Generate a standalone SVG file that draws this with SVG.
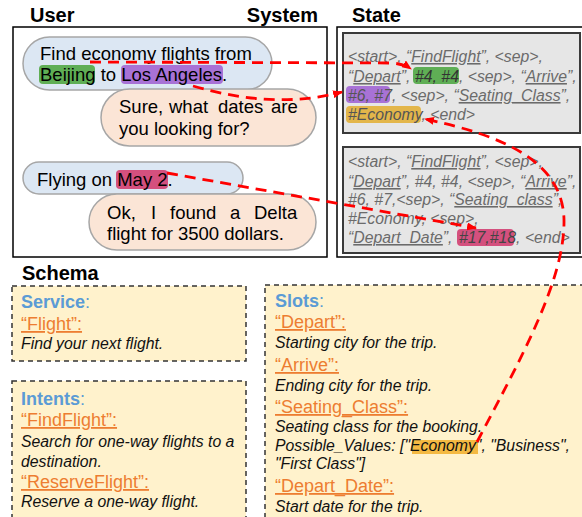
<svg xmlns="http://www.w3.org/2000/svg" width="582" height="517" viewBox="0 0 582 517">
<defs>
<style>
.ttl{font-family:"Liberation Sans",Arial,sans-serif;font-weight:bold;font-size:20px;fill:#000}
.dlg{font-family:"Liberation Sans",Arial,sans-serif;font-size:18.5px;fill:#000}
.ubub{fill:#dce7f3;stroke:#a6a6a6;stroke-width:1.5}
.sbub{fill:#fbe5d6;stroke:#a6a6a6;stroke-width:1.5}
.frame{fill:none;stroke:#000;stroke-width:1.5}
.stbox{fill:#e6e6e6;stroke:#3a3a3a;stroke-width:2}
.st{font-family:"Liberation Sans",Arial,sans-serif;font-style:italic;font-size:15.8px;fill:#6b6b6b}
.ul{text-decoration:underline}
.sch{fill:#fff2cc;stroke:#333;stroke-width:1.5;stroke-dasharray:5,4}
.hd{font-family:"Liberation Sans",Arial,sans-serif;font-weight:bold;font-size:18px;fill:#5b9bd5}
.key{font-family:"Liberation Sans",Arial,sans-serif;font-size:18px;fill:#ed7d31;text-decoration:underline}
.desc{font-family:"Liberation Sans",Arial,sans-serif;font-style:italic;font-size:15.8px;fill:#111}
.conn{fill:none;stroke:#ff0000;stroke-width:2.8;stroke-dasharray:11,7}
</style>
<marker id="arr" viewBox="0 0 10 8" refX="9" refY="4" markerWidth="10" markerHeight="8" markerUnits="userSpaceOnUse" orient="auto">
<path d="M0,0 L10,4 L0,8 z" fill="#ff0000"/>
</marker>
</defs>
<rect width="582" height="517" fill="#fff"/>

<g id="titles">
<text class="ttl" x="30" y="22">User</text>
<text class="ttl" x="318" y="22" text-anchor="end">System</text>
<text class="ttl" x="352" y="22">State</text>
<text class="ttl" x="22" y="280">Schema</text>
</g>

<g id="dialogue">
<rect class="frame" x="13" y="27" width="314" height="230"/>
<g id="u1">
<rect class="ubub" x="23" y="37" width="249" height="53" rx="26.5"/>
<rect x="39" y="65" width="56" height="19" rx="4" fill="#5fae55"/>
<rect x="121" y="65" width="102" height="19" rx="4" fill="#a872d6"/>
<text class="dlg" x="40" y="60">Find economy flights from</text>
<text class="dlg" x="40" y="81">Beijing to Los Angeles.</text>
</g>
<g id="s1">
<rect class="sbub" x="101" y="89" width="215" height="57" rx="28.5"/>
<text class="dlg" y="113"><tspan x="119">Sure,</tspan><tspan x="169">what</tspan><tspan x="218">dates</tspan><tspan x="271">are</tspan></text>
<text class="dlg" x="119" y="135">you looking for?</text>
</g>
<g id="u2">
<rect class="ubub" x="23" y="162" width="220" height="32" rx="16"/>
<rect x="116" y="170" width="52" height="19" rx="4" fill="#d4507e"/>
<text class="dlg" x="37" y="186">Flying on May 2.</text>
</g>
<g id="s2">
<rect class="sbub" x="89" y="194" width="227" height="56" rx="28"/>
<text class="dlg" y="219"><tspan x="107">Ok,</tspan><tspan x="151">I</tspan><tspan x="170">found</tspan><tspan x="230">a</tspan><tspan x="254">Delta</tspan></text>
<text class="dlg" x="107" y="240">flight for 3500 dollars.</text>
</g>
</g>

<g id="state">
<rect class="frame" x="337" y="27" width="250" height="230"/>
<g id="state1">
<rect class="stbox" x="343" y="33" width="237" height="100"/>
<rect x="413" y="67" width="46" height="17" rx="4" fill="#5fae55"/>
<rect x="346" y="86" width="44" height="17" rx="4" fill="#a872d6"/>
<rect x="346" y="106" width="75" height="17" rx="4" fill="#e3b64a"/>
<text class="st" x="348" y="62">&lt;start&gt;, “<tspan class="ul">FindFlight</tspan>”, &lt;sep&gt;,</text>
<text class="st" x="348" y="82">“<tspan class="ul">Depart</tspan>”, <tspan x="415" fill="#333">#4, #4</tspan>, &lt;sep&gt;, “<tspan class="ul">Arrive</tspan>”,</text>
<text class="st" x="348" y="101"><tspan fill="#555">#6, #7</tspan>, &lt;sep&gt;, “<tspan class="ul">Seating_Class</tspan>”,</text>
<text class="st" x="348" y="120"><tspan fill="#555">#Economy</tspan>, &lt;end&gt;</text>
</g>
<g id="state2">
<rect class="stbox" x="343" y="147" width="237" height="106"/>
<rect x="457" y="229" width="57" height="17" rx="4" fill="#d4507e"/>
<text class="st" x="348" y="167">&lt;start&gt;, “<tspan class="ul">FindFlight</tspan>”, &lt;sep&gt;,</text>
<text class="st" x="348" y="187">“<tspan class="ul">Depart</tspan>”, #4, #4, &lt;sep&gt;, “<tspan class="ul">Arrive</tspan>”,</text>
<text class="st" x="348" y="205">#6, #7,&lt;sep&gt;, “<tspan class="ul">Seating_class</tspan>”,</text>
<text class="st" x="348" y="224">#Economy, &lt;sep&gt;,</text>
<text class="st" x="348" y="243">“<tspan class="ul">Depart_Date</tspan>”, <tspan x="459" fill="#444">#17,#18</tspan>, &lt;end&gt;</text>
</g>
</g>

<g id="schema-service">
<rect class="sch" x="12" y="286" width="234" height="75"/>
<text class="hd" x="21" y="308">Service<tspan font-weight="normal">:</tspan></text>
<text class="key" x="21" y="330">“Flight”:</text>
<text class="desc" x="21" y="349">Find your next flight.</text>
</g>

<g id="schema-intents">
<rect class="sch" x="12" y="381" width="234" height="150"/>
<text class="hd" x="21" y="405">Intents<tspan font-weight="normal">:</tspan></text>
<text class="key" x="21" y="426">“FindFlight”:</text>
<text class="desc" x="21" y="447">Search for one-way flights to a</text>
<text class="desc" x="21" y="467">destination.</text>
<text class="key" x="21" y="488">“ReserveFlight”:</text>
<text class="desc" x="21" y="507">Reserve a one-way flight.</text>
</g>

<g id="schema-slots">
<rect class="sch" x="265" y="285" width="330" height="250"/>
<rect x="412" y="440" width="66" height="14" fill="#f4b942"/>
<text class="hd" x="275" y="307">Slots<tspan font-weight="normal">:</tspan></text>
<text class="key" x="275" y="328">“Depart”:</text>
<text class="desc" x="275" y="348">Starting city for the trip.</text>
<text class="key" x="275" y="371">“Arrive”:</text>
<text class="desc" x="275" y="391">Ending city for the trip.</text>
<text class="key" x="275" y="413">“Seating_Class”:</text>
<text class="desc" x="275" y="432">Seating class for the booking.</text>
<text class="desc" x="275" y="451">Possible_Values: ["Economy", "Business",</text>
<text class="desc" x="275" y="469">"First Class"]</text>
<text class="key" x="275" y="492">“Depart_Date”:</text>
<text class="desc" x="275" y="512">Start date for the trip.</text>
</g>

<g id="connectors">
<path class="conn" d="M90,62 L392,63 Q404,64 411,69" marker-end="url(#arr)"/>
<path class="conn" d="M193,86 Q275,110 342,92" marker-end="url(#arr)"/>
<path class="conn" d="M167,173 L476,228" marker-end="url(#arr)"/>
<path class="conn" d="M477,442 C520,360 565,280 564,220 C563,160 500,135 425,119" marker-end="url(#arr)"/>
</g>
</svg>
